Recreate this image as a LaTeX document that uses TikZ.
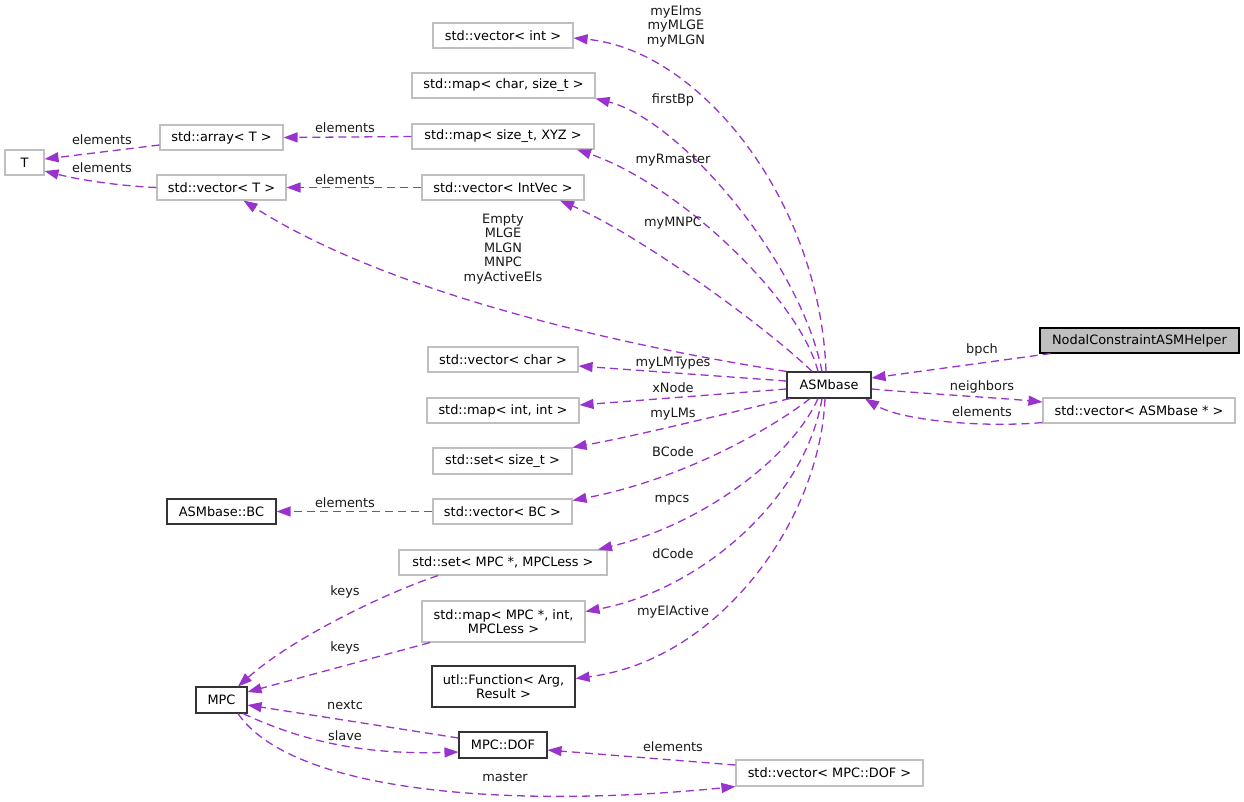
\documentclass[tikz,border=0pt]{standalone}
\usepackage{fontspec}
\setmainfont{DejaVu Sans}
\usetikzlibrary{arrows.meta,calc}
\definecolor{edgec}{HTML}{9A32CD}
\definecolor{extc}{HTML}{BFBFBF}
\definecolor{mainfill}{HTML}{BFBFBF}
\begin{document}
\begin{tikzpicture}[x=1pt,y=-1pt,
  font=\fontsize{12.9}{14.5}\selectfont,
  box/.style={draw=#1,line width=1.1pt,inner sep=0pt,align=center,fill=white},
  extbox/.style={box=extc},
  docbox/.style={box=black!80},
  mainbox/.style={draw=black,line width=1.1pt,inner sep=0pt,fill=mainfill},
  lbl/.style={inner sep=0pt,align=center,text=black!90},
  rel/.style={draw=edgec,line width=1.3pt,dash pattern=on 8pt off 5pt,-{Triangle[length=14pt,width=10pt]}}
]
\useasboundingbox (0,0) rectangle (1244,801);

% nodes
\node[extbox,minimum width=39pt,minimum height=25pt] (T) at (24.5,162.5) {T};
\node[extbox,minimum width=123pt,minimum height=25pt] (arr) at (221.5,137.5) {std::array< T >};
\node[extbox,minimum width=129pt,minimum height=25pt] (vT) at (221.5,187.5) {std::vector< T >};
\node[extbox,minimum width=140pt,minimum height=25pt] (vint) at (503,35.5) {std::vector< int >};
\node[extbox,minimum width=183pt,minimum height=25pt] (mchar) at (503.5,85.5) {std::map< char, size\_t >};
\node[extbox,minimum width=182pt,minimum height=25pt] (mxyz) at (503,136.5) {std::map< size\_t, XYZ >};
\node[extbox,minimum width=162pt,minimum height=25pt] (vintvec) at (503,187.5) {std::vector< IntVec >};
\node[extbox,minimum width=150pt,minimum height=25pt] (vchar) at (503,359.5) {std::vector< char >};
\node[extbox,minimum width=152pt,minimum height=25pt] (mii) at (503,410.5) {std::map< int, int >};
\node[extbox,minimum width=139pt,minimum height=26pt] (ssize) at (502.5,461) {std::set< size\_t >};
\node[extbox,minimum width=139pt,minimum height=25pt] (vbc) at (502.5,511.5) {std::vector< BC >};
\node[docbox,minimum width=109pt,minimum height=25pt] (bc) at (221.5,511.5) {ASMbase::BC};
\node[extbox,minimum width=208pt,minimum height=25pt] (smpc) at (503,562.5) {std::set< MPC *, MPCLess >};
\node[extbox,minimum width=163pt,minimum height=41pt] (mmpc) at (503.5,621.5) {std::map< MPC *, int,\\MPCLess >};
\node[docbox,minimum width=143pt,minimum height=41pt] (func) at (503.5,686.5) {utl::Function< Arg,\\Result >};
\node[docbox,minimum width=51pt,minimum height=26pt] (mpc) at (221.5,700) {MPC};
\node[docbox,minimum width=88pt,minimum height=26pt] (dof) at (503,745) {MPC::DOF};
\node[extbox,minimum width=187pt,minimum height=26pt] (vdof) at (829.5,773) {std::vector< MPC::DOF >};
\node[docbox,minimum width=84pt,minimum height=26pt] (asm) at (829,385) {ASMbase};
\node[mainbox,minimum width=199pt,minimum height=25pt] (nodal) at (1139.5,340.5) {NodalConstraintASMHelper};
\node[extbox,minimum width=192pt,minimum height=25pt] (vasm) at (1139,410.5) {std::vector< ASMbase * >};

% edges from ASMbase
\draw[rel] ([xshift=-3pt]asm.north) .. controls (820,200) and (700,50) .. ([yshift=-2.5pt]vint.east);
\draw[rel] ([xshift=-7pt]asm.north) .. controls (800,260) and (680,120) .. (mchar.south east);
\draw[rel] ([xshift=-11pt]asm.north) .. controls (800,300) and (680,185) .. ([xshift=74pt]mxyz.south);
\draw[rel] ([xshift=-17pt]asm.north) .. controls (770,330) and (640,235) .. ([xshift=57pt]vintvec.south);
\draw[rel] (asm.north west) .. controls (650,350) and (400,300) .. ([xshift=22pt]vT.south);
\draw[rel] ([yshift=4pt]asm.west) -- ([yshift=-6.5pt]vchar.east);
\draw[rel] ([yshift=-4pt]asm.west) -- ([yshift=5.5pt]mii.east);
\draw[rel] ([xshift=-39pt]asm.south) .. controls (720,415) and (640,435) .. (ssize.north east);
\draw[rel] ([xshift=-19pt]asm.south) .. controls (770,430) and (680,480) .. ([yshift=-2pt]vbc.north east);
\draw[rel] ([xshift=-11pt]asm.south) .. controls (790,460) and (700,525) .. ([xshift=95pt]smpc.north);
\draw[rel] ([xshift=-7pt]asm.south) .. controls (805,500) and (700,590) .. ([yshift=10pt]mmpc.east);
\draw[rel] ([xshift=-4pt]asm.south) .. controls (820,520) and (720,660) .. ([yshift=8pt]func.east);
\draw[rel] ([xshift=-89pt]nodal.south) -- ([yshift=7pt]asm.east);
\draw[rel] ([yshift=-4pt]asm.east) .. controls (930,394) and (1000,398) .. ([yshift=8.5pt]vasm.west);
\draw[rel] ([yshift=1pt]vasm.south west) .. controls (980,428) and (900,420) .. ([xshift=36pt]asm.south);

% template / container edges
\draw[rel] ([yshift=-7.5pt]arr.west) -- ([yshift=3.5pt]T.east);
\draw[rel] (vT.west) .. controls (120,186) and (80,180) .. ([yshift=-8.5pt]T.east);
\draw[rel] (mxyz.west) -- (arr.east);
\draw[rel] (vintvec.west) -- (vT.east);
\draw[rel] (vbc.west) -- (bc.east);

% MPC edges
\draw[rel] ([xshift=-65pt]smpc.south) .. controls (380,595) and (290,640) .. ([xshift=16.5pt]mpc.north);
\draw[rel] ([xshift=-73.5pt]mmpc.south) -- ([yshift=8pt]mpc.east);
\draw[rel] ([yshift=7pt]dof.west) -- ([yshift=-5pt]mpc.east);
\draw[rel] ([xshift=21.5pt]mpc.south) .. controls (300,740) and (360,755) .. ([yshift=-7pt]dof.west);
\draw[rel] ([xshift=16.5pt]mpc.south) .. controls (290,790) and (500,810) .. (vdof.south west);
\draw[rel] ([yshift=8pt]vdof.west) -- ([yshift=-5pt]dof.east);

% labels
\node[lbl] (l1) at (676,26) {myElms\\myMLGE\\myMLGN};
\node[lbl] (l2) at (673,100) {firstBp};
\node[lbl] (l3) at (673,160) {myRmaster};
\node[lbl] (l4) at (673,223) {myMNPC};
\node[lbl] (l5) at (503,249) {Empty\\MLGE\\MLGN\\MNPC\\myActiveEls};
\node[lbl] (l6) at (673,363) {myLMTypes};
\node[lbl] (l7) at (673,388) {xNode};
\node[lbl] (l8) at (673,414) {myLMs};
\node[lbl] (l9) at (673,452) {BCode};
\node[lbl] (l10) at (672,500) {mpcs};
\node[lbl] (l11) at (673,554) {dCode};
\node[lbl] (l12) at (673,612) {myElActive};
\node[lbl] (l13) at (982,350) {bpch};
\node[lbl] (l14) at (982,387) {neighbors};
\node[lbl] (l15) at (982,412) {elements};
\node[lbl] (l16) at (102,140) {elements};
\node[lbl] (l17) at (102,168) {elements};
\node[lbl] (l18) at (345,128) {elements};
\node[lbl] (l19) at (345,180) {elements};
\node[lbl] (l20) at (345,503) {elements};
\node[lbl] (l21) at (345,592) {keys};
\node[lbl] (l22) at (345,648) {keys};
\node[lbl] (l23) at (345,705) {nextc};
\node[lbl] (l24) at (345,736) {slave};
\node[lbl] (l25) at (505,777) {master};
\node[lbl] (l26) at (673,747) {elements};
\end{tikzpicture}
\end{document}
